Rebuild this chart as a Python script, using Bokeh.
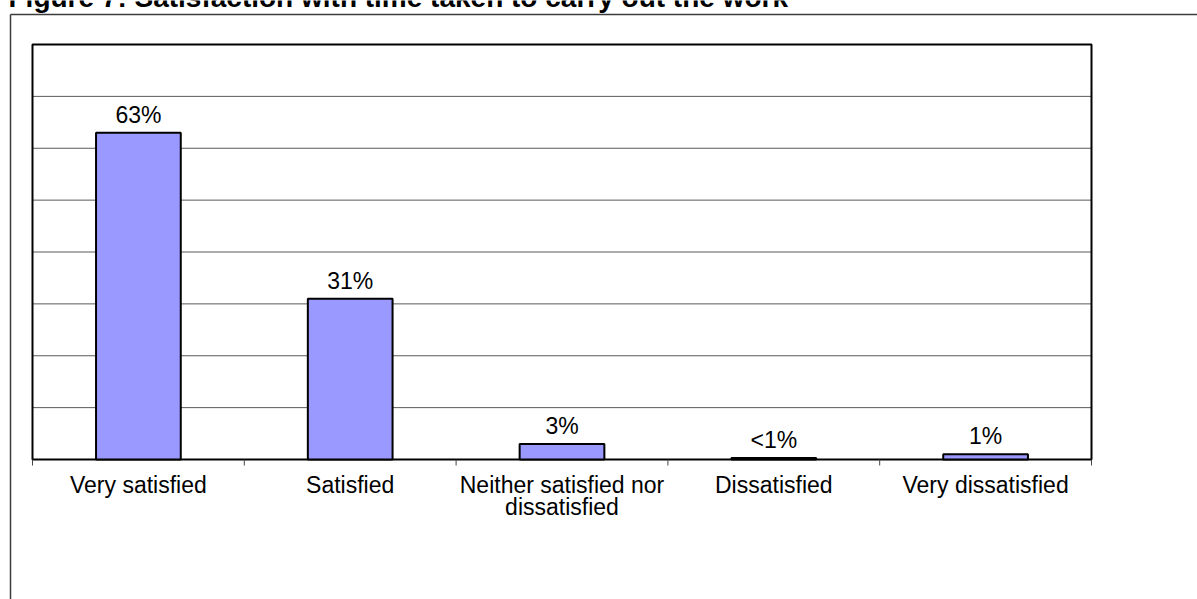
from bokeh.plotting import figure
from bokeh.models import Label, Range1d, ColumnDataSource
from bokeh.embed import file_html
from bokeh.resources import INLINE
from bokeh.core.properties import value

# Survey results
title_text = "Figure 7: Satisfaction with time taken to carry out the work"
categories = [
    "Very satisfied",
    "Satisfied",
    "Neither satisfied nor\ndissatisfied",
    "Dissatisfied",
    "Very dissatisfied",
]
percent = [63, 31, 3, 0.3, 1]
value_labels = ["63%", "31%", "3%", "<1%", "1%"]
y_ticks = [0, 10, 20, 30, 40, 50, 60, 70, 80]

FONT = "Liberation Sans"
W, H = 1197, 599

# page layout in pixels: chart border and inner plot area
BOX_L, BOX_T = 10, 14
AREA_L, AREA_R, AREA_T, AREA_B = 32, 1091, 44, 459

n = len(categories)
y_max = y_ticks[-1]
kx = (AREA_R - AREA_L) / n          # pixels per category
ky = (AREA_B - AREA_T) / y_max      # pixels per percentage point
x_start, x_end = -AREA_L / kx, n + (W - AREA_R) / kx
y_start, y_end = -(H - AREA_B) / ky, y_max + AREA_T / ky


def px_x(px):
    return x_start + px / kx


def px_y(py):
    return y_end - py / ky


p = figure(
    width=W, height=H,
    output_backend="svg", toolbar_location=None,
    x_range=Range1d(x_start, x_end), y_range=Range1d(y_start, y_end),
    min_border=0,
)
p.title.visible = False
p.axis.visible = False
p.grid.visible = False
p.outline_line_color = None
p.background_fill_color = "white"
p.border_fill_color = "white"

centers = [i + 0.5 for i in range(n)]
bounds = list(range(n + 1))

# outer chart border (left and top edges; the rest runs off the page)
p.segment(x0=[px_x(BOX_L), px_x(BOX_L)], y0=[px_y(BOX_T), px_y(BOX_T)],
          x1=[px_x(BOX_L), px_x(W + 10)], y1=[px_y(H + 10), px_y(BOX_T)],
          line_color="#3c3c3c", line_width=1.5)

# horizontal gridlines
p.segment(x0=[0] * len(y_ticks), x1=[n] * len(y_ticks), y0=y_ticks, y1=y_ticks,
          line_color="#5a5a5a", line_width=1)

# plot area frame
p.quad(left=[0], right=[n], bottom=[y_ticks[0]], top=[y_max],
       fill_color=None, line_color="black", line_width=2)

# category boundary ticks below the axis
p.segment(x0=bounds, x1=bounds, y0=[0] * len(bounds),
          y1=[px_y(AREA_B + 6)] * len(bounds),
          line_color="#444444", line_width=1)

# bars
p.vbar(x=centers, top=percent, width=0.4, bottom=0,
       fill_color="#9999FF", line_color="black", line_width=2)

# value labels above bars
p.text(x=centers, y=percent, text=value_labels,
       text_align="center", text_baseline="alphabetic", y_offset=-18,
       text_font=value(FONT), text_font_size="23px", text_color="black")

# category labels (wrapped lines stacked below the axis)
lx, lt, lo = [], [], []
for c, name in zip(centers, categories):
    for j, line in enumerate(name.split("\n")):
        lx.append(c)
        lt.append(line)
        lo.append(25 + 22 * j)
src = ColumnDataSource(dict(x=lx, y=[0] * len(lx), text=lt, off=lo))
p.text(x="x", y="y", text="text", y_offset="off", source=src,
       text_align="center", text_baseline="alphabetic",
       text_font=value(FONT), text_font_size="23px", text_color="black")

# figure title, running off the top of the page
p.add_layout(Label(
    x=px_x(8), y=px_y(-3),
    text=title_text, text_font=FONT, text_font_size="28px",
    text_font_style="bold", text_baseline="alphabetic", text_color="black",
))

open("out.html", "w").write(file_html(p, INLINE))
